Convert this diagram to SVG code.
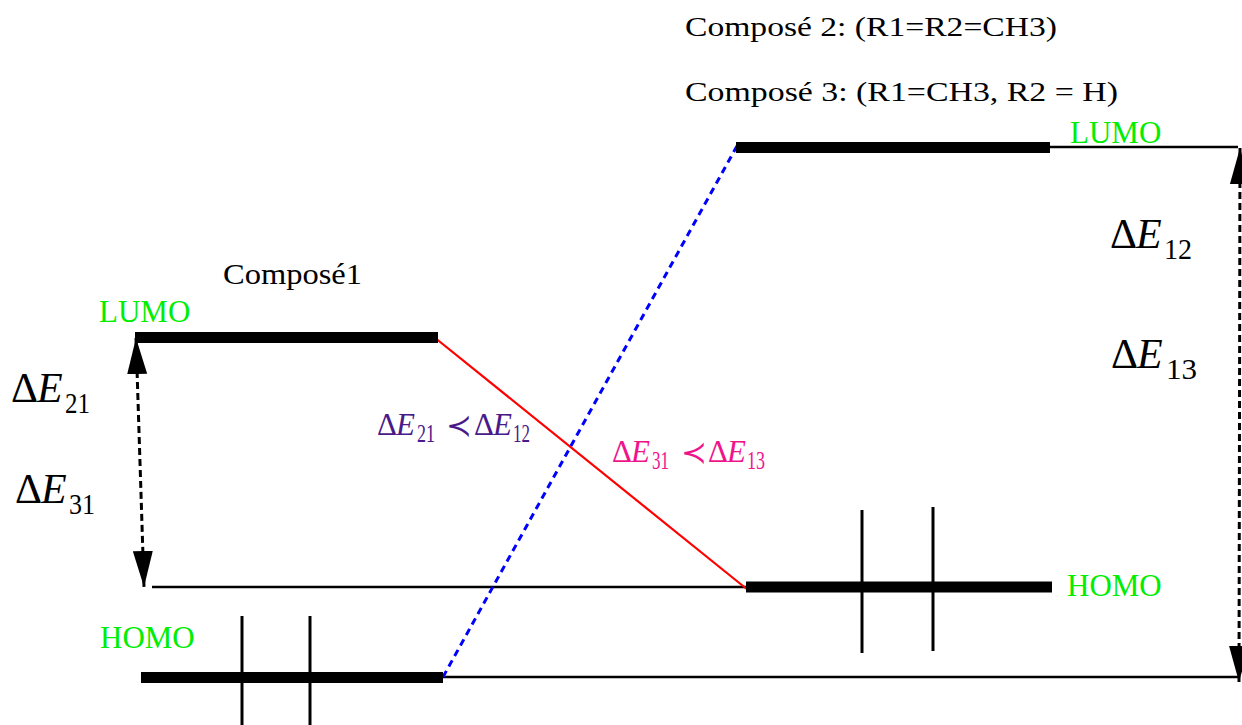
<svg xmlns="http://www.w3.org/2000/svg" width="1242" height="725" viewBox="0 0 1242 725">
<style>
text{font-family:"Liberation Serif","Times New Roman",serif;}
.lbl{fill:#00ee00;font-size:31px;}
.title{fill:#000;font-size:28px;}
.big{font-size:42px;fill:#000;}
.bigsub{font-size:30px;fill:#000;}
.it{font-style:italic;}
.mid{font-size:31px;}
.midsub{font-size:25px;}
.bar{stroke:#000;stroke-width:11;fill:none;}
.thin{stroke:#000;stroke-width:2.5;fill:none;}
.tick{stroke:#000;stroke-width:3;fill:none;}
.darrow{stroke:#000;stroke-width:3;stroke-dasharray:7 4;fill:none;marker-start:url(#ah);marker-end:url(#ah);}
</style>
<defs>
<marker id="ah" markerUnits="userSpaceOnUse" markerWidth="40" markerHeight="24" refX="36" refY="10" orient="auto-start-reverse" viewBox="0 0 40 20">
<path d="M0,0 L36,10 L0,20 Z" fill="#000"/>
</marker>
</defs>
<rect width="1242" height="725" fill="#fff"/>

<g id="titles">
<text class="title" x="685" y="36" textLength="372" lengthAdjust="spacingAndGlyphs">Composé 2: (R1=R2=CH3)</text>
<text class="title" x="685" y="101" textLength="433" lengthAdjust="spacingAndGlyphs">Composé 3: (R1=CH3, R2 = H)</text>
<text x="223" y="284" font-size="30" textLength="139" lengthAdjust="spacingAndGlyphs">Composé1</text>
</g>

<g id="connectors">
<line class="thin" x1="152" y1="587" x2="748" y2="587"/>
<line class="thin" x1="440" y1="677" x2="1238" y2="677"/>
<line class="thin" x1="1048" y1="147" x2="1238" y2="147"/>
<line x1="429" y1="333" x2="748" y2="590" stroke="#ff0000" stroke-width="2.2"/>
<line x1="443" y1="677" x2="737" y2="146" stroke="#0000ff" stroke-width="3" stroke-dasharray="7 5"/>
<path class="darrow" d="M136,338 L144,587"/>
<path class="darrow" d="M1240,148 L1239,682"/>
</g>

<g id="compose1-lumo">
<line class="bar" x1="135" y1="337.5" x2="438" y2="337.5"/>
<text class="lbl" x="99" y="322">LUMO</text>
</g>

<g id="compose1-homo">
<line class="bar" x1="141" y1="677.5" x2="443" y2="677.5"/>
<line class="tick" x1="242" y1="616" x2="242" y2="725"/>
<line class="tick" x1="310" y1="616" x2="310" y2="725"/>
<text class="lbl" x="100" y="648">HOMO</text>
</g>

<g id="compose23-lumo">
<line class="bar" x1="736" y1="147.5" x2="1050" y2="147.5"/>
<text class="lbl" x="1070" y="143">LUMO</text>
</g>

<g id="compose23-homo">
<line class="bar" x1="746" y1="587" x2="1052" y2="587"/>
<line class="tick" x1="862" y1="510" x2="862" y2="653"/>
<line class="tick" x1="933" y1="507" x2="933" y2="651"/>
<text class="lbl" x="1067" y="596">HOMO</text>
</g>

<g id="dE21">
<text class="big" x="11" y="402">Δ</text>
<text class="big it" x="37" y="402">E</text>
<text class="bigsub" x="65" y="413" textLength="25" lengthAdjust="spacingAndGlyphs">21</text>
</g>
<g id="dE31">
<text class="big" x="15" y="503">Δ</text>
<text class="big it" x="41" y="503">E</text>
<text class="bigsub" x="69" y="514" textLength="26" lengthAdjust="spacingAndGlyphs">31</text>
</g>
<g id="dE12">
<text class="big" x="1110" y="248">Δ</text>
<text class="big it" x="1136" y="248">E</text>
<text class="bigsub" x="1164" y="259" textLength="28" lengthAdjust="spacingAndGlyphs">12</text>
</g>
<g id="dE13">
<text class="big" x="1111" y="368">Δ</text>
<text class="big it" x="1137" y="368">E</text>
<text class="bigsub" x="1166" y="379" textLength="31" lengthAdjust="spacingAndGlyphs">13</text>
</g>

<g id="cmp1" fill="#4a1a8a">
<text class="mid" x="377" y="435">Δ</text>
<text class="mid it" x="396" y="435">E</text>
<text class="midsub" x="417" y="442" textLength="18" lengthAdjust="spacingAndGlyphs">21</text>
<text class="mid" x="446" y="436">≺</text>
<text class="mid" x="474" y="435">Δ</text>
<text class="mid it" x="493" y="435">E</text>
<text class="midsub" x="513" y="442" textLength="17" lengthAdjust="spacingAndGlyphs">12</text>
</g>
<g id="cmp2" fill="#f0148c">
<text class="mid" x="612" y="462">Δ</text>
<text class="mid it" x="631" y="462">E</text>
<text class="midsub" x="652" y="469" textLength="17" lengthAdjust="spacingAndGlyphs">31</text>
<text class="mid" x="681" y="463">≺</text>
<text class="mid" x="708" y="462">Δ</text>
<text class="mid it" x="727" y="462">E</text>
<text class="midsub" x="747" y="469" textLength="18" lengthAdjust="spacingAndGlyphs">13</text>
</g>
</svg>
